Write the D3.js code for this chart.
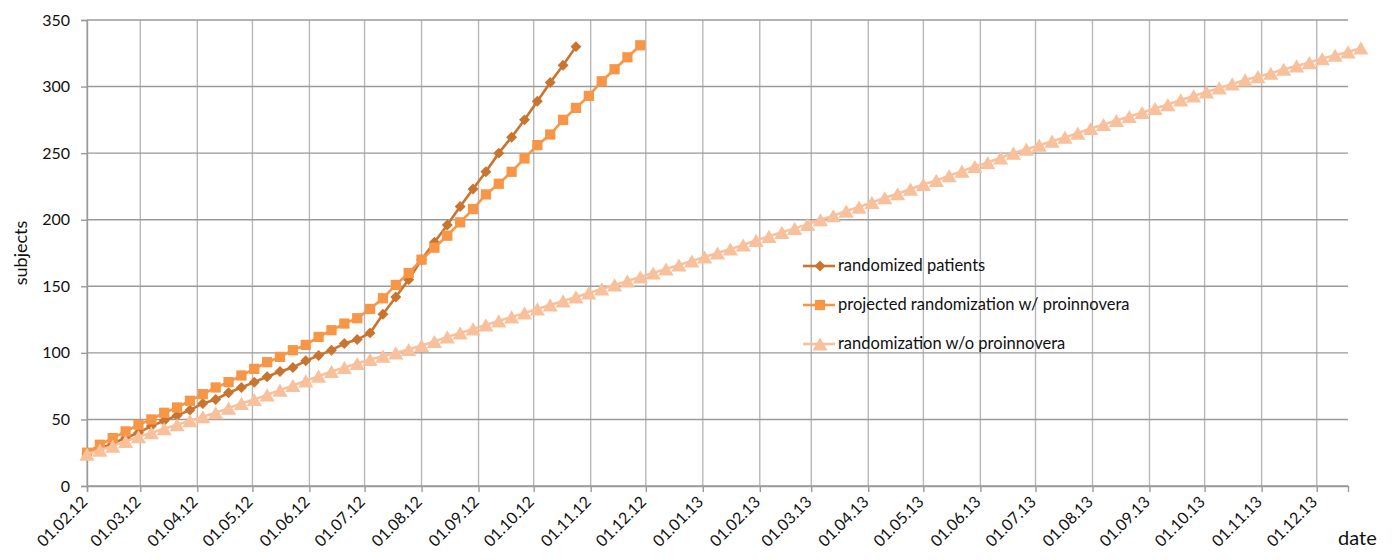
<!DOCTYPE html>
<html><head><meta charset="utf-8">
<script src="https://cdn.jsdelivr.net/npm/d3@7"></script>
<style>
html,body{margin:0;padding:0;background:#fff;}
text{font-family:Lato,"Noto Sans",sans-serif;fill:#111;}
</style></head>
<body><svg id="chart" width="1396" height="560"></svg>
<script>
// ---- data (weekly observations starting 01.02.2012) ----
const startDate = "2012-02-01";
const endDate = "2013-12-18";
const seriesNames = ["randomized patients", "projected randomization w/ proinnovera", "randomization w/o proinnovera"];
const randomizedPatients = [24, 28, 32, 36, 40, 45, 49, 53, 57, 62, 65, 70, 74, 78, 82, 86, 89, 94, 98, 102,
  107, 110, 115, 129, 142, 155, 170, 183, 196, 210, 223, 236, 250, 262, 275, 289, 303, 316, 330];
const projectedWithPro = [25, 31, 36, 41, 46, 50, 55, 59, 64, 69, 74, 78, 83, 88, 93, 97, 102, 106, 112, 117,
  122, 126, 133, 141, 151, 160, 170, 179, 188, 198, 208, 219, 227, 236, 246, 256, 264, 275, 284, 293,
  304, 313, 322, 331];
const withoutPro = [24, 27, 30, 33.5, 37, 40, 43, 46, 49, 52, 55, 58.5, 62, 65, 68.5, 72, 75.5, 79, 82.5, 86,
  89, 92, 95, 97.5, 100, 102.5, 105.5, 108.5, 112, 115, 118, 121, 124, 127, 130, 133, 136, 139, 142, 145,
  148, 151, 154, 157, 160, 163, 166, 169, 172, 175, 178, 181, 184.5, 187.5, 190.5, 193.5, 196.5, 200,
  203, 206.5, 209.5, 213, 216.5, 219.5, 223, 226.5, 229.5, 233, 236.5, 240, 243, 246.5, 250, 253, 256, 259, 262,
  265, 268.5, 271.5, 274.5, 277.5, 280.5, 283.5, 286.5, 290, 293, 296, 299, 302, 305, 307.5, 310, 313, 315.5, 318,
  321, 323.5, 326, 329];
const yTicks = [0, 50, 100, 150, 200, 250, 300, 350];
const xTickMonths = ["01.02.12","01.03.12","01.04.12","01.05.12","01.06.12","01.07.12","01.08.12","01.09.12",
  "01.10.12","01.11.12","01.12.12","01.01.13","01.02.13","01.03.13","01.04.13","01.05.13","01.06.13","01.07.13",
  "01.08.13","01.09.13","01.10.13","01.11.13","01.12.13"];

// ---- layout ----
const W = 1396, H = 560;
const m = {left: 87, right: 48, top: 20, bottom: 74};
const svg = d3.select("#chart");
const parse = d3.timeParse("%Y-%m-%d");
const parseTick = d3.timeParse("%d.%m.%y");
const fmt = d3.timeFormat("%d.%m.%y");
const t0 = parse(startDate);
const dateAt = i => d3.timeDay.offset(t0, 7 * i);

const x = d3.scaleTime().domain([t0, parse(endDate)]).range([m.left, W - m.right]);
const y = d3.scaleLinear().domain([0, 350]).range([H - m.bottom, m.top]);
const tickDates = xTickMonths.map(parseTick);

// grid: vertical
svg.append("g").selectAll("line").data(tickDates).join("line")
  .attr("x1", d => x(d)).attr("x2", d => x(d))
  .attr("y1", y(350)).attr("y2", y(0))
  .attr("stroke", "#b8b8b8").attr("stroke-width", 1.4);
// grid: horizontal
svg.append("g").selectAll("line").data(yTicks).join("line")
  .attr("x1", m.left).attr("x2", W - m.right)
  .attr("y1", d => y(d)).attr("y2", d => y(d))
  .attr("stroke", "#9a9a9a").attr("stroke-width", 1.4);

// axes
const xAxis = d3.axisBottom(x).tickValues(tickDates).tickFormat(fmt).tickSize(6).tickPadding(4);
const gx = svg.append("g").attr("transform", `translate(0,${y(0)})`).call(xAxis);
gx.select(".domain").attr("stroke", "#9a9a9a").attr("stroke-width", 1.4);
gx.selectAll(".tick line").attr("stroke", "#9a9a9a").attr("stroke-width", 1.4);
gx.selectAll(".tick text")
  .attr("font-family", "Lato, sans-serif").attr("font-size", 16).attr("fill", "#111")
  .attr("text-anchor", "end").attr("dy", null).attr("y", 0)
  .attr("transform", "translate(1,17) rotate(-45)");

const yAxis = d3.axisLeft(y).tickValues(yTicks).tickSize(6).tickPadding(11);
const gy = svg.append("g").attr("transform", `translate(${m.left},0)`).call(yAxis);
gy.select(".domain").attr("stroke", "#9a9a9a").attr("stroke-width", 1.4);
gy.selectAll(".tick line").attr("stroke", "#9a9a9a").attr("stroke-width", 1.4);
gy.selectAll(".tick text").attr("font-family", "Lato, sans-serif").attr("font-size", 16).attr("fill", "#111");

// axis titles
svg.append("text").attr("transform", `translate(27,${(y(0) + y(350)) / 2}) rotate(-90)`)
  .attr("text-anchor", "middle").attr("font-size", 18).text("subjects");
svg.append("text").attr("x", 1338).attr("y", 545).attr("font-size", 20).text("date");

// series
const colors = ["#c9742f", "#f79646", "#f9c09c"];
const symbols = [d3.symbolSquare, d3.symbolSquare, d3.symbolTriangle];
const sizes = [60, 105, 100];
const rot = [" rotate(45)", "", ""];
// triangle: shift so that its bounding box is centered on the point (as in spreadsheet markers)
const triR = Math.sqrt(100 / (3 * Math.sqrt(3)));
const dyOff = [0, 0, triR / 2];
const allSeries = [randomizedPatients, projectedWithPro, withoutPro];
const line = d3.line().x((d, i) => x(dateAt(i))).y(d => y(d));

allSeries.forEach((vals, s) => {
  const g = svg.append("g");
  g.append("path").datum(vals).attr("d", line)
    .attr("fill", "none").attr("stroke", colors[s]).attr("stroke-width", 2.6);
  g.selectAll("path.m").data(vals).join("path").attr("class", "m")
    .attr("d", d3.symbol().type(symbols[s]).size(sizes[s]))
    .attr("transform", (d, i) => `translate(${x(dateAt(i))},${y(d) + dyOff[s]})${rot[s]}`)
    .attr("fill", colors[s]);
});

// legend
const lg = svg.append("g").attr("transform", "translate(803,266)");
seriesNames.forEach((name, s) => {
  const row = lg.append("g").attr("transform", `translate(0,${s * 39})`);
  row.append("line").attr("x1", 0).attr("x2", 32).attr("y1", 0).attr("y2", 0)
    .attr("stroke", colors[s]).attr("stroke-width", 2.6);
  row.append("path").attr("d", d3.symbol().type(symbols[s]).size(sizes[s]))
    .attr("transform", `translate(17,${dyOff[s]})${rot[s]}`)
    .attr("fill", colors[s]);
  row.append("text").attr("x", 35).attr("y", 5).attr("font-size", 16.5).text(name);
});
</script></body></html>
